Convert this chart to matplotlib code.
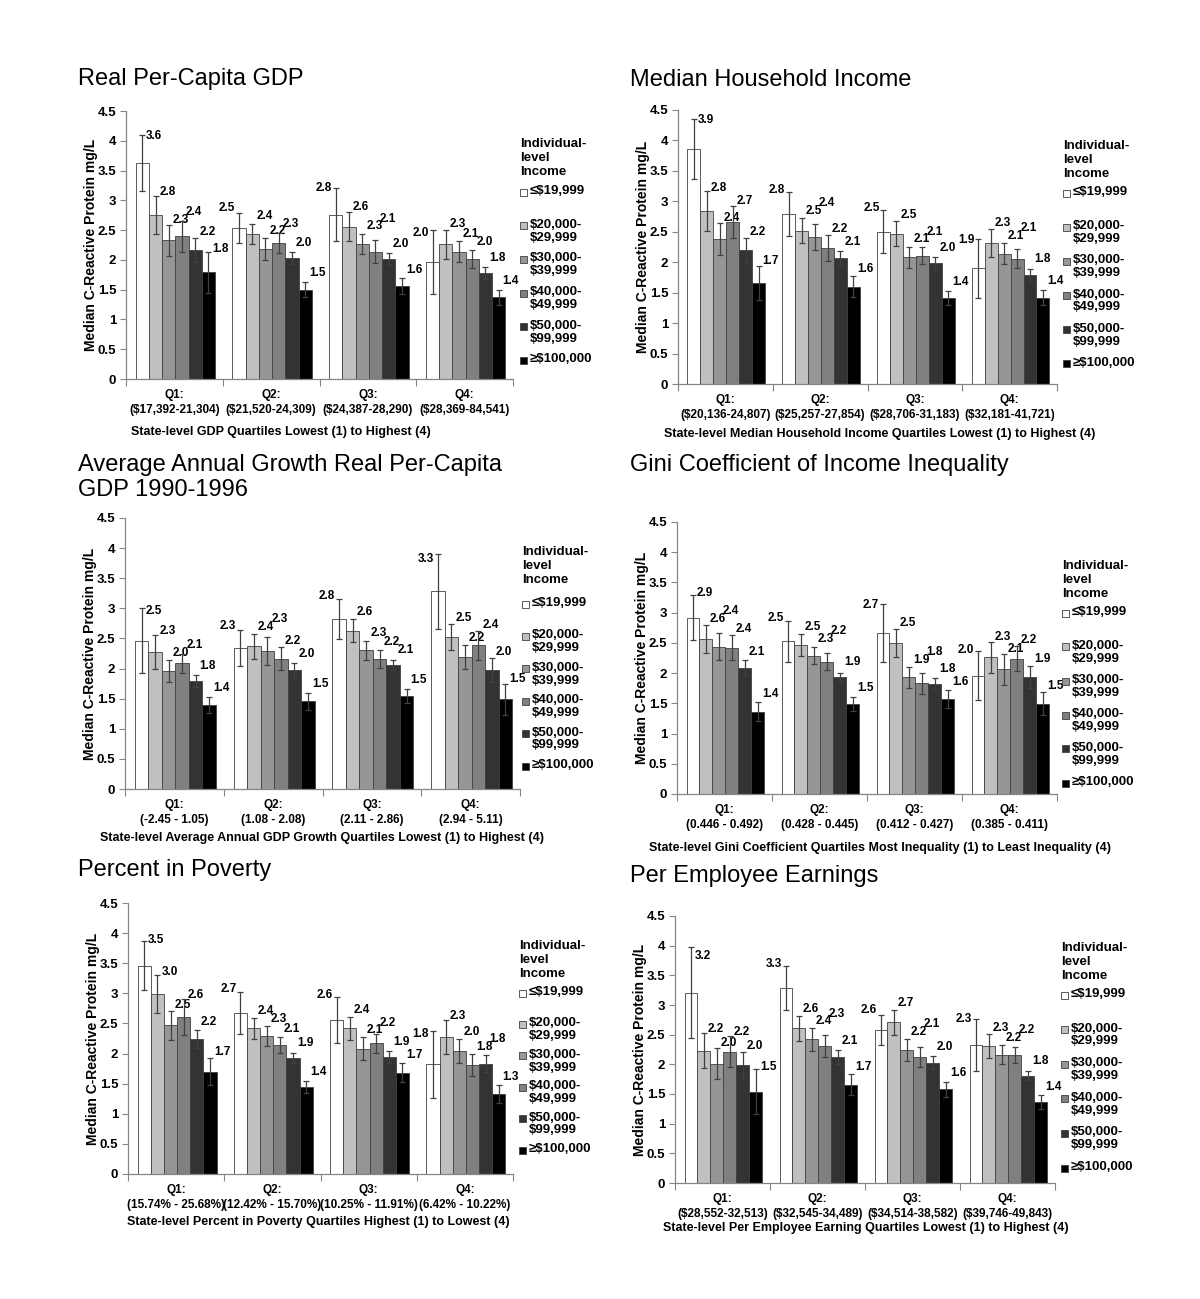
import numpy as np
import matplotlib
matplotlib.use('Agg')
import matplotlib.pyplot as plt
from matplotlib.patches import Rectangle
from matplotlib.ticker import FixedLocator, FuncFormatter

plt.rcParams['font.family'] = ['Liberation Sans', 'DejaVu Sans']

# legend / series
income_groups = ['\u2264$19,999', '$20,000-\n$29,999', '$30,000-\n$39,999',
                 '$40,000-\n$49,999', '$50,000-\n$99,999', '\u2265$100,000']
bar_colors = ['#ffffff', '#c0c0c0', '#969696', '#808080', '#333333', '#000000']
quartiles = ['Q1:', 'Q2:', 'Q3:', 'Q4:']

# Real Per-Capita GDP
gdp_ranges = ['($17,392-21,304)', '($21,520-24,309)', '($24,387-28,290)', '($28,369-84,541)']
gdp_vals = [[3.63, 2.76, 2.33, 2.40, 2.16, 1.79],
            [2.53, 2.44, 2.18, 2.28, 2.03, 1.50],
            [2.76, 2.56, 2.27, 2.14, 2.02, 1.56],
            [1.96, 2.26, 2.14, 2.01, 1.78, 1.37]]
gdp_err = [[0.47, 0.32, 0.26, 0.26, 0.20, 0.34],
           [0.25, 0.17, 0.18, 0.17, 0.10, 0.13],
           [0.44, 0.24, 0.17, 0.19, 0.10, 0.13],
           [0.54, 0.25, 0.18, 0.15, 0.10, 0.13]]

# Median Household Income
mhi_ranges = ['($20,136-24,807)', '($25,257-27,854)', '($28,706-31,183)', '($32,181-41,721)']
mhi_vals = [[3.86, 2.84, 2.38, 2.66, 2.20, 1.66],
            [2.79, 2.52, 2.41, 2.23, 2.07, 1.60],
            [2.50, 2.47, 2.08, 2.11, 1.98, 1.41],
            [1.90, 2.31, 2.14, 2.06, 1.79, 1.42]]
mhi_err = [[0.50, 0.33, 0.26, 0.26, 0.19, 0.28],
           [0.36, 0.21, 0.21, 0.21, 0.11, 0.17],
           [0.35, 0.20, 0.17, 0.14, 0.10, 0.12],
           [0.48, 0.23, 0.17, 0.15, 0.10, 0.12]]

# Average Annual Growth
growth_ranges = ['(-2.45 - 1.05)', '(1.08 - 2.08)', '(2.11 - 2.86)', '(2.94 - 5.11)']
growth_vals = [[2.46, 2.27, 1.96, 2.09, 1.79, 1.40],
               [2.34, 2.37, 2.29, 2.16, 1.97, 1.46],
               [2.82, 2.63, 2.30, 2.16, 2.06, 1.54],
               [3.28, 2.52, 2.19, 2.39, 1.97, 1.49]]
growth_err = [[0.54, 0.28, 0.18, 0.16, 0.10, 0.13],
              [0.30, 0.21, 0.23, 0.19, 0.12, 0.14],
              [0.33, 0.19, 0.15, 0.15, 0.08, 0.12],
              [0.62, 0.22, 0.20, 0.24, 0.20, 0.26]]

# Gini coefficient
gini_ranges = ['(0.446 - 0.492)', '(0.428 - 0.445)', '(0.412 - 0.427)', '(0.385 - 0.411)']
gini_vals = [[2.92, 2.57, 2.44, 2.42, 2.09, 1.36],
             [2.53, 2.46, 2.29, 2.19, 1.94, 1.49],
             [2.66, 2.50, 1.93, 1.83, 1.82, 1.57],
             [1.96, 2.26, 2.06, 2.24, 1.94, 1.49]]
gini_err = [[0.37, 0.23, 0.23, 0.21, 0.12, 0.16],
            [0.34, 0.18, 0.14, 0.14, 0.07, 0.11],
            [0.48, 0.23, 0.17, 0.17, 0.10, 0.15],
            [0.41, 0.25, 0.25, 0.21, 0.18, 0.19]]

# Percent in Poverty
pov_ranges = ['(15.74% - 25.68%)', '(12.42% - 15.70%)', '(10.25% - 11.91%)', '(6.42% - 10.22%)']
pov_vals = [[3.46, 2.99, 2.47, 2.60, 2.24, 1.70],
            [2.68, 2.42, 2.29, 2.14, 1.93, 1.44],
            [2.56, 2.42, 2.08, 2.17, 1.94, 1.68],
            [1.82, 2.27, 2.04, 1.81, 1.83, 1.33]]
pov_err = [[0.41, 0.31, 0.24, 0.30, 0.15, 0.23],
           [0.35, 0.17, 0.16, 0.13, 0.08, 0.10],
           [0.38, 0.19, 0.19, 0.16, 0.10, 0.16],
           [0.55, 0.28, 0.20, 0.19, 0.14, 0.15]]

# Per Employee Earnings
earn_ranges = ['($28,552-32,513)', '($32,545-34,489)', '($34,514-38,582)', '($39,746-49,843)']
earn_vals = [[3.21, 2.23, 2.01, 2.21, 1.99, 1.54],
             [3.28, 2.61, 2.42, 2.31, 2.12, 1.66],
             [2.58, 2.71, 2.24, 2.13, 2.03, 1.58],
             [2.32, 2.31, 2.16, 2.16, 1.81, 1.36]]
earn_err = [[0.77, 0.30, 0.26, 0.26, 0.22, 0.38],
            [0.37, 0.21, 0.19, 0.19, 0.12, 0.17],
            [0.25, 0.21, 0.19, 0.17, 0.11, 0.13],
            [0.44, 0.20, 0.16, 0.14, 0.08, 0.12]]

W, H = 1200, 1299
fig = plt.figure(figsize=(W / 100, H / 100), dpi=100)
fig.patch.set_facecolor('white')


def fx(x):
    return x / W


def fy(y):
    return 1 - y / H


panels = [
    dict(title='Real Per-Capita GDP', vals=gdp_vals, err=gdp_err, ranges=gdp_ranges,
         xlabel='State-level GDP Quartiles Lowest (1) to Highest (4)',
         box=(126, 513, 111, 379), tpos=(78, 85), xlpos=(281, 432),
         leg=(520, 145, 192, 33.7)),
    dict(title='Median Household Income', vals=mhi_vals, err=mhi_err, ranges=mhi_ranges,
         xlabel='State-level Median Household Income Quartiles Lowest (1) to Highest (4)',
         box=(678, 1057, 110, 384), tpos=(630, 86), xlpos=(880, 434),
         leg=(1063, 147, 193, 34.2)),
    dict(title='Average Annual Growth Real Per-Capita\nGDP 1990-1996', vals=growth_vals,
         err=growth_err, ranges=growth_ranges,
         xlabel='State-level Average Annual GDP Growth Quartiles Lowest (1) to Highest (4)',
         box=(125, 520, 518, 789), tpos=(78, 496), xlpos=(322, 838),
         leg=(522, 553, 604, 32.4)),
    dict(title='Gini Coefficient of Income Inequality', vals=gini_vals, err=gini_err,
         ranges=gini_ranges,
         xlabel='State-level Gini Coefficient Quartiles Most Inequality (1) to Least Inequality (4)',
         box=(677, 1057, 522, 794), tpos=(630, 471), xlpos=(880, 848),
         leg=(1062, 567, 613, 34.0)),
    dict(title='Percent in Poverty', vals=pov_vals, err=pov_err, ranges=pov_ranges,
         xlabel='State-level Percent in Poverty Quartiles Highest (1) to Lowest (4)',
         box=(128, 513, 903, 1174), tpos=(78, 876), xlpos=(318, 1222),
         leg=(519, 947, 993, 31.4)),
    dict(title='Per Employee Earnings', vals=earn_vals, err=earn_err, ranges=earn_ranges,
         xlabel='State-level Per Employee Earning Quartiles Lowest (1) to Highest (4)',
         box=(675, 1055, 916, 1183), tpos=(630, 882), xlpos=(866, 1228),
         leg=(1061, 949, 995, 34.6)),
]

group_w = 0.82
w = group_w / 6
x = np.arange(4)
axis_gray = '#868686'

for p in panels:
    l, r, t, b = p['box']
    ax = fig.add_axes([fx(l), fy(b), (r - l) / W, (b - t) / H])
    vals = np.array(p['vals'])
    err = np.array(p['err'])
    prev_ly = [None] * 4  # last right-side label height per quartile
    for j in range(6):
        xs = x + (j - 2.5) * w + 0.01
        ax.bar(xs, vals[:, j], width=w, color=bar_colors[j], edgecolor='#404040',
               linewidth=0.6, zorder=2)
        ax.errorbar(xs, vals[:, j], yerr=err[:, j], fmt='none', ecolor='#404040',
                    elinewidth=0.9, capsize=2, capthick=0.9, zorder=3)
        for i in range(4):
            v, e = vals[i, j], err[i, j]
            ly = v + 0.55 * e + 0.2
            if j == 0 and i > 0:
                ax.text(xs[i] - 0.3 * w, ly, f'{v:.1f}', ha='right', va='center',
                        fontsize=8.5, fontweight='bold')
                continue
            # nudge up a little if it would collide with the neighbour's label
            if prev_ly[i] is not None and abs(ly - prev_ly[i]) < 0.13:
                ly = prev_ly[i] + 0.13
            prev_ly[i] = ly
            ax.text(xs[i] + 0.3 * w, ly, f'{v:.1f}', ha='left', va='center',
                    fontsize=8.5, fontweight='bold')

    ax.set_xlim(-0.5, 3.5)
    ax.set_ylim(0, 4.5)
    ax.set_yticks(np.arange(0, 4.51, 0.5))
    ax.yaxis.set_major_formatter(FuncFormatter(lambda v, pos: f'{v:g}'))
    ax.set_xticks(x)
    ax.set_xticklabels([f'{q}\n{rg}' for q, rg in zip(quartiles, p['ranges'])])
    ax.xaxis.set_minor_locator(FixedLocator(np.arange(-0.5, 3.6, 1)))
    ax.tick_params(axis='x', which='major', length=0, pad=7, labelsize=8.5)
    ax.tick_params(axis='x', which='minor', length=5, color=axis_gray, width=0.8)
    ax.tick_params(axis='y', length=4, color=axis_gray, width=0.8, labelsize=9.5, pad=3)
    for lab in ax.get_xticklabels() + ax.get_yticklabels():
        lab.set_fontweight('bold')
    for lab in ax.get_xticklabels():
        lab.set_linespacing(1.4)
    for s in ['top', 'right']:
        ax.spines[s].set_visible(False)
    for s in ['left', 'bottom']:
        ax.spines[s].set_color(axis_gray)
        ax.spines[s].set_linewidth(0.9)

    ax.set_ylabel('Median C-Reactive Protein mg/L', fontsize=10, fontweight='bold')
    ax.yaxis.set_label_coords(-28 / (r - l), 0.5)

    fig.text(fx(p['tpos'][0]), fy(p['tpos'][1]), p['title'], fontsize=17,
             ha='left', va='baseline', linespacing=1.2)
    fig.text(fx(p['xlpos'][0]), fy(p['xlpos'][1]), p['xlabel'], fontsize=9,
             fontweight='bold', ha='center', va='center')

    # legend drawn by hand (Excel style: square aligned with first line)
    lx, ty, ey, step = p['leg']
    fig.text(fx(lx), fy(ty - 7), 'Individual-\nlevel\nIncome', fontsize=9.5,
             fontweight='bold', ha='left', va='top', linespacing=1.2)
    for j, name in enumerate(income_groups):
        yy = ey + j * step
        sq = 7
        fig.add_artist(Rectangle((fx(lx), fy(yy + sq / 2)), sq / W, sq / H,
                                 facecolor=bar_colors[j], edgecolor='#404040',
                                 linewidth=0.6, transform=fig.transFigure))
        fig.text(fx(lx + 10), fy(yy - 7), name, fontsize=9.5, fontweight='bold',
                 ha='left', va='top', linespacing=1.1)

fig.savefig('out.png', dpi=100, facecolor='white')
